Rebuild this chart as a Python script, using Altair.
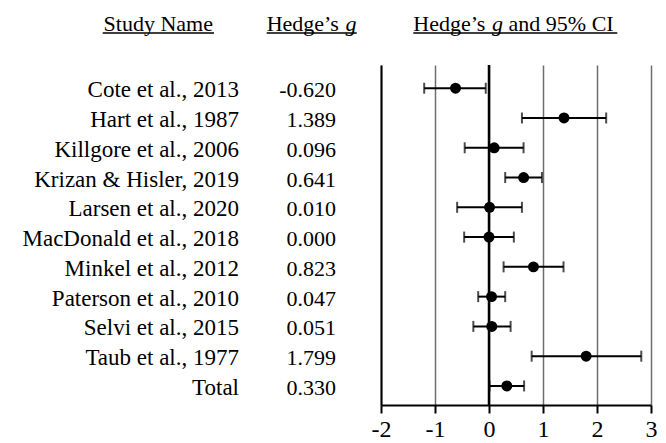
import altair as alt
import pandas as pd

# Studies, effect sizes (Hedge's g) and 95% confidence limits
studies = [
    "Cote et al., 2013",
    "Hart et al., 1987",
    "Killgore et al., 2006",
    "Krizan & Hisler, 2019",
    "Larsen et al., 2020",
    "MacDonald et al., 2018",
    "Minkel et al., 2012",
    "Paterson et al., 2010",
    "Selvi et al., 2015",
    "Taub et al., 1977",
    "Total",
]
hedges_g = [-0.620, 1.389, 0.096, 0.641, 0.010, 0.000, 0.823, 0.047, 0.051, 1.799, 0.330]
ci_lower = [-1.20, 0.61, -0.45, 0.30, -0.59, -0.46, 0.27, -0.20, -0.29, 0.79, 0.01]
ci_upper = [-0.06, 2.17, 0.64, 0.98, 0.61, 0.46, 1.38, 0.30, 0.40, 2.82, 0.65]
x_ticks = [-2, -1, 0, 1, 2, 3]

df = pd.DataFrame({
    "row": list(range(len(studies))),
    "study": studies,
    "g": hedges_g,
    "g_label": [f"{v:.3f}" for v in hedges_g],
    "lower": ci_lower,
    "upper": ci_upper,
})

FONT = "Liberation Serif"
W, H = 270, 340

y_enc = alt.Y(
    "row:Q",
    scale=alt.Scale(domain=[-0.78, 10.64], reverse=True, nice=False, zero=False),
    axis=alt.Axis(labels=False, ticks=False, grid=False, title=None,
                  domain=True, domainColor="black", domainWidth=2),
)
x_scale = alt.Scale(domain=[-2, 3], nice=False, zero=False)

base = alt.Chart(df)

# Error bars with end caps, then the point estimates
bars = base.mark_rule(color="black", strokeWidth=2).encode(
    x=alt.X("lower:Q", scale=x_scale, axis=alt.Axis(
        values=x_ticks, title=None, grid=True, gridColor="#6e6e6e", gridWidth=1.5,
        domainColor="black", domainWidth=2, tickColor="black", tickWidth=2,
        tickSize=8, labelFont=FONT, labelFontSize=24, labelColor="black",
        labelPadding=4, labelFlush=False, labelOverlap=False,
        labelExpr="datum.value < 0 ? '-' + abs(datum.value) : '' + datum.value")),
    x2="upper:Q",
    y=y_enc,
)
cap_lo = base.mark_tick(color="black", orient="vertical", size=11, thickness=2).encode(
    x=alt.X("lower:Q", scale=x_scale), y=y_enc)
cap_hi = base.mark_tick(color="black", orient="vertical", size=11, thickness=2).encode(
    x=alt.X("upper:Q", scale=x_scale), y=y_enc)
points = base.mark_circle(color="black", opacity=1, size=120).encode(
    x=alt.X("g:Q", scale=x_scale), y=y_enc)

# Line of no effect
zero_line = alt.Chart(pd.DataFrame({"x": [0]})).mark_rule(
    color="black", strokeWidth=2.5).encode(x=alt.X("x:Q", scale=x_scale))

# Text columns: study names and effect sizes
names = base.mark_text(font=FONT, fontSize=23, align="right", baseline="alphabetic",
                       dy=9, color="black").encode(
    x=alt.value(-142), y=y_enc, text="study:N")
values = base.mark_text(font=FONT, fontSize=22, align="right", baseline="alphabetic",
                        dy=9, color="black").encode(
    x=alt.value(-45), y=y_enc, text="g_label:N")

# Column headings (underlined, with an italic g)
one = pd.DataFrame({"k": [0]})


def heading(txt, x, italic=False, align="left"):
    return alt.Chart(one).mark_text(
        text=txt, font=FONT, fontSize=22, align=align, baseline="alphabetic",
        fontStyle="italic" if italic else "normal", color="black",
    ).encode(x=alt.value(x), y=alt.value(-34))


def underline(x1, x2):
    return alt.Chart(one).mark_rule(color="black", strokeWidth=1.5).encode(
        x=alt.value(x1), x2=alt.value(x2), y=alt.value(-32))


headings = [
    heading("Study Name", -222.7, align="center"),
    underline(-278.3, -167),
    heading("Hedge’s", -114.3),
    heading("g", -35.5, italic=True),
    underline(-114.3, -24.3),
    heading("Hedge’s", 32.3),
    heading("g", 111.1, italic=True),
    heading("and 95% CI", 127.6),
    underline(32.3, 236.3),
]

chart = alt.layer(
    bars, zero_line, cap_lo, cap_hi, points, names, values, *headings
).properties(
    width=W, height=H,
    padding={"left": 381, "top": 65, "right": 15, "bottom": 38},
    autosize=alt.AutoSizeParams(type="none"),
    background="white",
).configure_view(stroke=None)

chart.save("out.html", embed_options={"renderer": "svg", "actions": False})
